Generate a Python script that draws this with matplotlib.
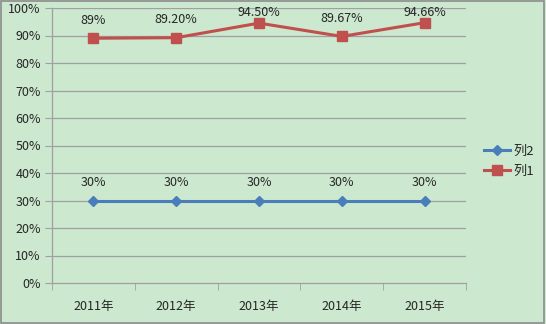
import matplotlib
matplotlib.use("Agg")
import matplotlib.pyplot as plt
from matplotlib.ticker import FixedLocator, NullFormatter

plt.rcParams['font.family'] = ['Noto Sans CJK SC', 'DejaVu Sans']

categories = ["2011年", "2012年", "2013年", "2014年", "2015年"]
series2 = [30, 30, 30, 30, 30]
series1 = [89, 89.20, 94.50, 89.67, 94.66]
labels2 = ["30%", "30%", "30%", "30%", "30%"]
labels1 = ["89%", "89.20%", "94.50%", "89.67%", "94.66%"]
yticks = list(range(0, 101, 10))

bg = "#CCE8CF"
blue = "#4A7EBB"
red = "#C0504D"
grid = "#A0A0A0"
txt = "#262626"
fs = 9

fig = plt.figure(figsize=(5.46, 3.24), dpi=100, facecolor=bg)
# outer border
fig.patches.append(plt.Rectangle((0.002, 0.003), 0.995, 0.994, transform=fig.transFigure,
                                 fill=False, edgecolor="#8C8C8C", linewidth=1.2))

ax = fig.add_axes([52 / 546, 1 - 283 / 324, (466 - 52) / 546, (283 - 8) / 324])
ax.set_facecolor(bg)

x = list(range(len(categories)))
ax.set_xlim(-0.5, len(categories) - 0.5)
ax.set_ylim(0, 100)

for y in yticks[1:]:
    ax.axhline(y, color=grid, linewidth=0.9, zorder=1)

l2, = ax.plot(x, series2, color=blue, linewidth=2.2, marker='D', markersize=5,
              markerfacecolor=blue, markeredgecolor=blue, label="列2", zorder=3)
l1, = ax.plot(x, series1, color=red, linewidth=2.2, marker='s', markersize=7.5,
              markerfacecolor=red, markeredgecolor=red, label="列1", zorder=3)

# data labels sit above each point, kept inside the plot area
def label_y(v):
    return min(v + 6.5, 98.5)

for xi, v, s in zip(x, series2, labels2):
    ax.text(xi, label_y(v), s, ha='center', va='center', fontsize=fs, color=txt)
for xi, v, s in zip(x, series1, labels1):
    ax.text(xi, label_y(v), s, ha='center', va='center', fontsize=fs, color=txt)

ax.set_yticks(yticks)
ax.set_yticklabels([f"{t}%" for t in yticks], fontsize=fs, color=txt)
ax.set_xticks(x)
ax.set_xticklabels(categories, fontsize=fs, color=txt)
ax.tick_params(axis='x', length=0, pad=12)
ax.xaxis.set_minor_locator(FixedLocator([i - 0.5 for i in range(len(categories) + 1)]))
ax.xaxis.set_minor_formatter(NullFormatter())
ax.tick_params(axis='x', which='minor', length=5, color=grid, direction='out')
ax.tick_params(axis='y', length=5, color=grid, direction='out', pad=3)

for side in ['top', 'right']:
    ax.spines[side].set_visible(False)
ax.spines['left'].set_color(grid)
ax.spines['bottom'].set_color(grid)
ax.spines['left'].set_linewidth(0.9)
ax.spines['bottom'].set_linewidth(0.9)

leg = fig.legend(handles=[l2, l1], loc='center left', bbox_to_anchor=(484 / 546, 1 - 161 / 324),
                 frameon=False, fontsize=fs + 0.5, handlelength=2.0, handletextpad=0.2,
                 labelspacing=0.55, borderpad=0, borderaxespad=0)
for t in leg.get_texts():
    t.set_color(txt)

fig.savefig("out.png", dpi=100, facecolor=bg)
